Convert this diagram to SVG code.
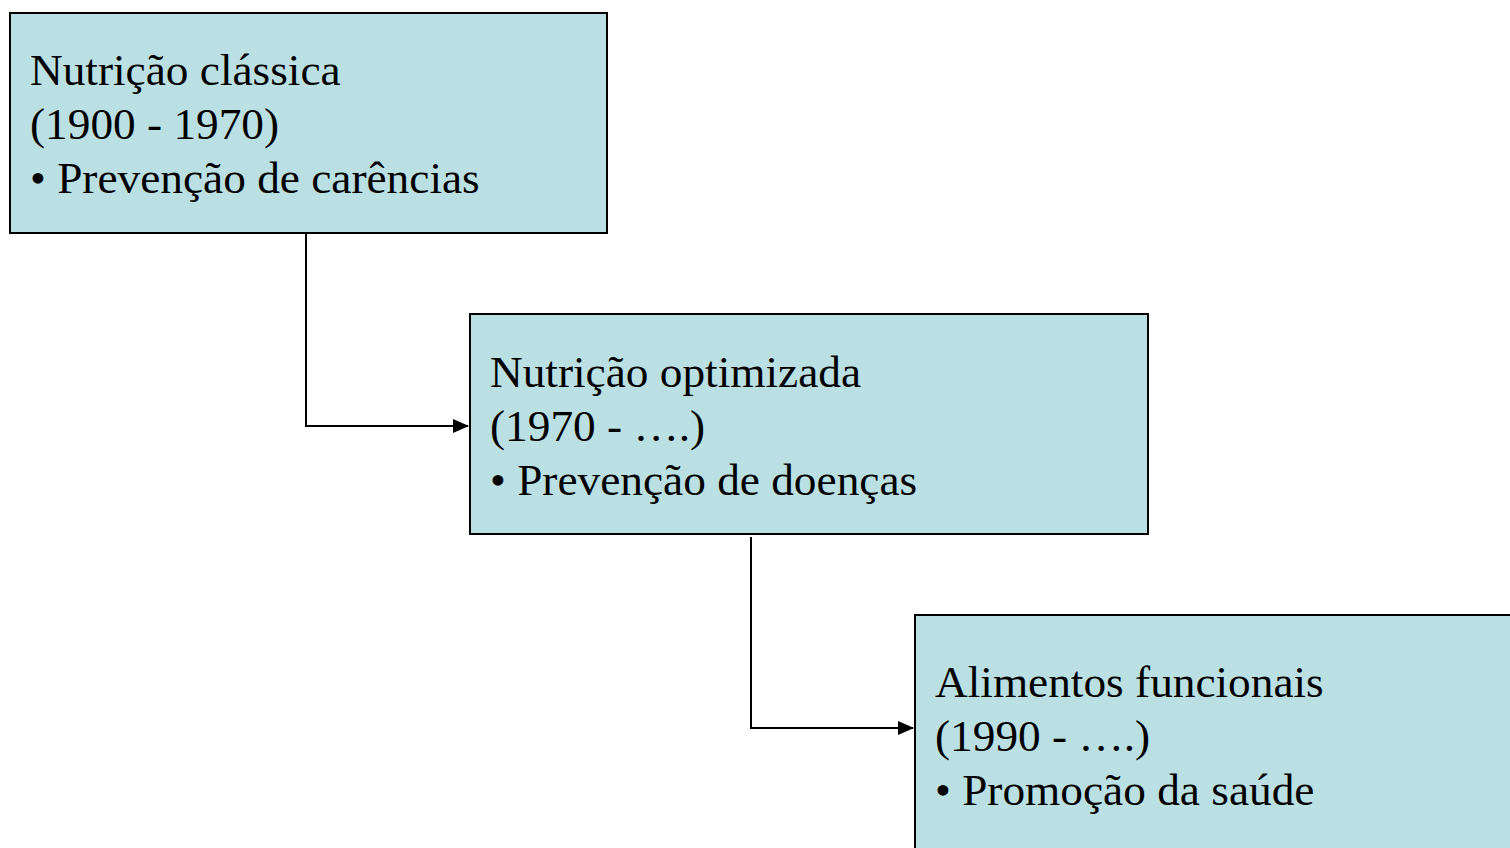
<svg xmlns="http://www.w3.org/2000/svg" width="1510" height="848" viewBox="0 0 1510 848">
<style>
.box{fill:#BBE0E3;stroke:#000;stroke-width:2}
.t{font-family:"Liberation Serif","Times New Roman",serif;font-size:45.3px;fill:#000}
.c{fill:none;stroke:#000;stroke-width:2}
</style>
<defs>
<marker id="ah" markerWidth="16" markerHeight="14" refX="15" refY="7" orient="auto" markerUnits="userSpaceOnUse">
<path d="M0,0 L16,7 L0,14 Z" fill="#000"/>
</marker>
</defs>
<rect width="1510" height="848" fill="#fff"/>
<g id="n1">
<rect class="box" x="10" y="13" width="597" height="220"/>
<text class="t" x="30" y="85">Nutrição clássica</text>
<text class="t" x="30" y="139">(1900 - 1970)</text>
<text class="t" x="30" y="193">• Prevenção de carências</text>
</g>
<g id="n2">
<rect class="box" x="470" y="314" width="678" height="220"/>
<text class="t" x="490" y="387">Nutrição optimizada</text>
<text class="t" x="490" y="441">(1970 - ….)</text>
<text class="t" x="490" y="495">• Prevenção de doenças</text>
</g>
<g id="n3">
<rect class="box" x="915" y="615" width="610" height="260"/>
<text class="t" x="935" y="697">Alimentos funcionais</text>
<text class="t" x="935" y="751">(1990 - ….)</text>
<text class="t" x="935" y="805">• Promoção da saúde</text>
</g>
<g id="connectors">
<path class="c" d="M306,234 V426 H468" marker-end="url(#ah)"/>
<path class="c" d="M751,537 V728 H913" marker-end="url(#ah)"/>
</g>
</svg>
